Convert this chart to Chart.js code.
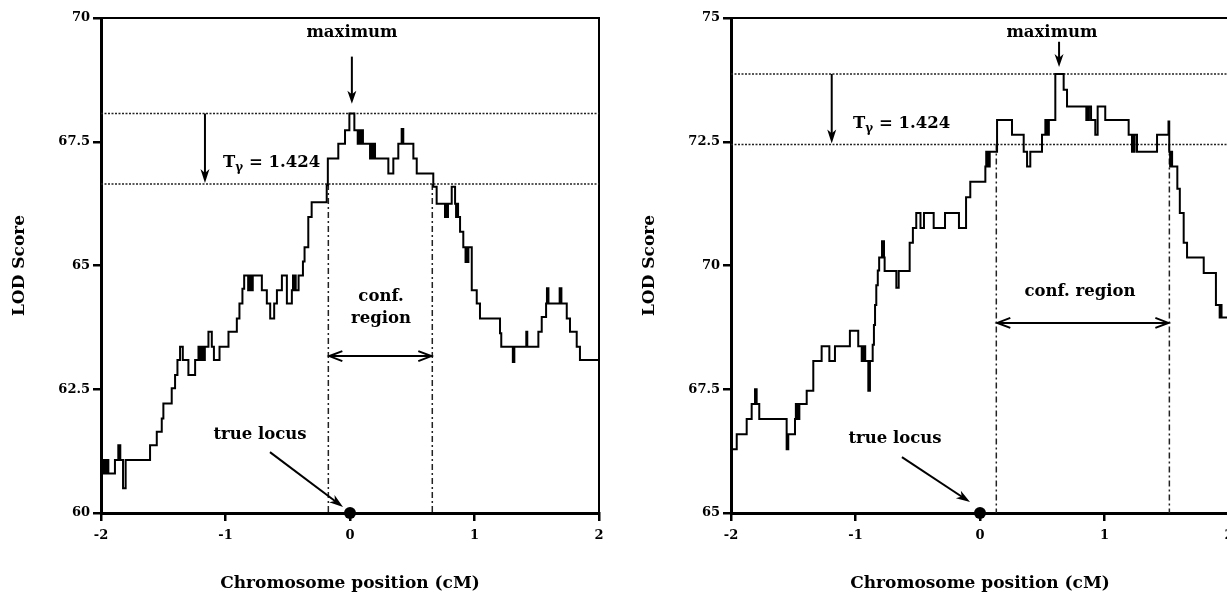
<!DOCTYPE html>
<html>
<head>
<meta charset="utf-8">
<script src="https://cdn.jsdelivr.net/npm/chart.js@4.4.1/dist/chart.umd.min.js"></script>
<style>
  html, body { margin: 0; padding: 0; background: #fff; overflow: hidden; width: 1227px; height: 596px; }
  canvas { position: absolute; top: 0; }
  #lodLeft { left: 0; }
  #lodRight { left: 630px; }
</style>
</head>
<body>
<canvas id="lodLeft" width="620" height="596" style="width:620px;height:596px"></canvas>
<canvas id="lodRight" width="620" height="596" style="width:620px;height:596px"></canvas>
<script>
// ---- axis ticks ----
const xTickValues = [-2, -1, 0, 1, 2];
const xTickLabels = ['-2', '-1', '0', '1', '2'];
const leftYTickValues = [60, 62.5, 65, 67.5, 70];
const leftYTickLabels = ['60', '62.5', '65', '67.5', '70'];
const rightYTickValues = [65, 67.5, 70, 72.5, 75];
const rightYTickLabels = ['65', '67.5', '70', '72.5', '75'];

// ---- LOD profile, left panel: position (cM) where each step begins, and its LOD score ----
const leftPos = [
  -2.000, -1.994, -1.986, -1.979, -1.971, -1.964, -1.956, -1.949, -1.941, -1.888,
  -1.861, -1.845, -1.823, -1.802, -1.606, -1.552, -1.512, -1.499, -1.432, -1.405,
  -1.386, -1.365, -1.343, -1.298, -1.244, -1.217, -1.206, -1.198, -1.190, -1.182,
  -1.174, -1.166, -1.137, -1.110, -1.093, -1.048, -0.976, -0.909, -0.888, -0.864,
  -0.850, -0.818, -0.811, -0.803, -0.796, -0.788, -0.781, -0.708, -0.668, -0.641,
  -0.609, -0.587, -0.547, -0.507, -0.467, -0.458, -0.450, -0.443, -0.436, -0.413,
  -0.378, -0.365, -0.335, -0.308, -0.187, -0.178, -0.094, -0.040, -0.005, 0.035,
  0.062, 0.069, 0.076, 0.083, 0.090, 0.097, 0.104, 0.161, 0.168, 0.175,
  0.182, 0.189, 0.196, 0.201, 0.308, 0.348, 0.388, 0.415, 0.428, 0.509,
  0.536, 0.669, 0.696, 0.763, 0.771, 0.779, 0.787, 0.817, 0.844, 0.852,
  0.860, 0.868, 0.884, 0.910, 0.928, 0.936, 0.942, 0.951, 0.978, 1.018,
  1.044, 1.205, 1.215, 1.308, 1.320, 1.416, 1.424, 1.513, 1.540, 1.575,
  1.582, 1.594, 1.684, 1.698, 1.741, 1.767, 1.821, 1.847, 2.000
];
const leftLod = [
  61.37, 61.07, 60.80, 61.07, 60.80, 61.07, 60.80, 61.07, 60.80, 61.07,
  61.37, 61.07, 60.50, 61.07, 61.37, 61.64, 61.91, 62.21, 62.52, 62.79,
  63.09, 63.36, 63.09, 62.79, 63.09, 63.36, 63.09, 63.36, 63.09, 63.36,
  63.09, 63.36, 63.66, 63.36, 63.09, 63.36, 63.66, 63.93, 64.23, 64.53,
  64.80, 64.50, 64.80, 64.50, 64.80, 64.50, 64.80, 64.50, 64.23, 63.93,
  64.23, 64.50, 64.80, 64.23, 64.50, 64.80, 64.50, 64.80, 64.50, 64.80,
  65.08, 65.37, 65.98, 66.28, 66.62, 67.16, 67.46, 67.73, 68.07, 67.73,
  67.46, 67.73, 67.46, 67.73, 67.46, 67.73, 67.46, 67.16, 67.46, 67.16,
  67.46, 67.16, 67.46, 67.16, 66.86, 67.16, 67.46, 67.76, 67.46, 67.16,
  66.86, 66.59, 66.25, 65.98, 66.25, 65.98, 66.25, 66.59, 66.25, 65.98,
  66.25, 65.98, 65.68, 65.37, 65.07, 65.37, 65.07, 65.37, 64.50, 64.23,
  63.93, 63.63, 63.36, 63.05, 63.36, 63.66, 63.36, 63.66, 63.96, 64.23,
  64.54, 64.23, 64.54, 64.23, 63.93, 63.66, 63.36, 63.09, 63.09
];

// ---- LOD profile, right panel ----
const rightPos = [
  -2.000, -1.954, -1.874, -1.834, -1.807, -1.794, -1.773, -1.553, -1.540, -1.486,
  -1.479, -1.472, -1.465, -1.458, -1.451, -1.392, -1.339, -1.272, -1.210, -1.165,
  -1.045, -0.978, -0.950, -0.944, -0.937, -0.930, -0.922, -0.897, -0.884, -0.862,
  -0.852, -0.843, -0.833, -0.821, -0.810, -0.787, -0.771, -0.766, -0.672, -0.653,
  -0.565, -0.539, -0.512, -0.478, -0.450, -0.372, -0.281, -0.169, -0.112, -0.078,
  0.043, 0.050, 0.057, 0.064, 0.071, 0.078, 0.137, 0.257, 0.351, 0.378,
  0.404, 0.498, 0.525, 0.532, 0.539, 0.546, 0.553, 0.605, 0.672, 0.699,
  0.854, 0.861, 0.868, 0.875, 0.892, 0.926, 0.945, 1.006, 1.194, 1.221,
  1.228, 1.235, 1.242, 1.261, 1.422, 1.514, 1.520, 1.527, 1.533, 1.543,
  1.585, 1.605, 1.636, 1.663, 1.797, 1.895, 1.925, 1.933, 1.940, 2.000
];
const rightLod = [
  66.29, 66.59, 66.90, 67.20, 67.50, 67.20, 66.90, 66.29, 66.59, 66.90,
  67.20, 66.90, 67.20, 66.90, 67.20, 67.47, 68.07, 68.37, 68.07, 68.37,
  68.68, 68.37, 68.07, 68.37, 68.07, 68.37, 68.07, 67.47, 68.07, 68.40,
  68.80, 69.20, 69.60, 69.90, 70.16, 70.49, 70.16, 69.89, 69.55, 69.89,
  70.46, 70.76, 71.06, 70.76, 71.06, 70.76, 71.06, 70.76, 71.38, 71.69,
  72.00, 72.30, 72.00, 72.30, 72.00, 72.30, 72.94, 72.64, 72.30, 72.00,
  72.30, 72.64, 72.94, 72.64, 72.94, 72.64, 72.94, 73.87, 73.55, 73.21,
  72.94, 73.21, 72.94, 73.21, 72.94, 72.64, 73.21, 72.94, 72.64, 72.30,
  72.64, 72.30, 72.64, 72.30, 72.64, 72.91, 72.30, 72.00, 72.30, 72.00,
  71.55, 71.06, 70.46, 70.16, 69.85, 69.20, 68.95, 69.20, 68.95, 68.95
];

// ---- support-interval quantities ----
const tGamma = 1.424;          // drop from the maximum that defines the region
const leftPeak = 68.07;        // maximum LOD, left panel
const rightPeak = 73.87;       // maximum LOD, right panel
const leftPeakPos = 0.015;
const rightPeakPos = 0.635;
const leftConf = [-0.174, 0.661];
const rightConf = [0.131, 1.521];
const trueLocusPos = 0;

const xTitle = 'Chromosome position (cM)';
const yTitle = 'LOD Score';

// ---- styling ----
const SERIF = '"DejaVu Serif", "Liberation Serif", serif';
const tickFont = { family: SERIF, weight: 'bold', size: 13 };
const titleFont = { family: SERIF, weight: 'bold', size: 17, lineHeight: 1.2 };
const noteSize = 16.5;

function drawArrow(ctx, x1, y1, x2, y2, head, half) {
  const ang = Math.atan2(y2 - y1, x2 - x1);
  ctx.beginPath();
  ctx.moveTo(x1, y1);
  ctx.lineTo(x2 - Math.cos(ang) * head * 0.6, y2 - Math.sin(ang) * head * 0.6);
  ctx.stroke();
  ctx.save();
  ctx.translate(x2, y2);
  ctx.rotate(ang);
  ctx.beginPath();
  ctx.moveTo(0, 0);
  ctx.lineTo(-head, -half);
  ctx.lineTo(-head * 0.72, 0);
  ctx.lineTo(-head, half);
  ctx.closePath();
  ctx.fill();
  ctx.restore();
}

function drawChevron(ctx, x, y, dir) {
  ctx.beginPath();
  ctx.moveTo(x + dir * 13, y - 5);
  ctx.lineTo(x, y);
  ctx.lineTo(x + dir * 13, y + 5);
  ctx.stroke();
}

// threshold lines, confidence-region bars, labels and arrows
const lodMarks = {
  id: 'lodMarks',
  beforeDatasetsDraw(chart, args, o) {
    const { ctx, chartArea: a, scales: { x, y } } = chart;
    const X = v => x.getPixelForValue(v), Y = v => y.getPixelForValue(v);
    ctx.save();
    ctx.strokeStyle = '#000';
    ctx.lineWidth = 2;
    ctx.beginPath();
    ctx.moveTo(a.left, a.top);
    ctx.lineTo(a.right, a.top);
    ctx.lineTo(a.right, a.bottom);
    ctx.stroke();

    ctx.strokeStyle = '#222';
    ctx.lineWidth = 1.5;
    ctx.setLineDash([2, 1.5]);
    for (const v of [o.peak, o.peak - o.t]) {
      const py = Y(v);
      ctx.beginPath();
      ctx.moveTo(a.left, py);
      ctx.lineTo(a.right, py);
      ctx.stroke();
    }
    ctx.setLineDash([6, 3, 2, 3]);
    for (const v of o.conf) {
      const px = X(v);
      ctx.beginPath();
      ctx.moveTo(px, Y(o.peak - o.t));
      ctx.lineTo(px, a.bottom);
      ctx.stroke();
    }
    ctx.restore();
  },
  afterDatasetsDraw(chart, args, o) {
    const { ctx, scales: { x, y } } = chart;
    const X = v => x.getPixelForValue(v), Y = v => y.getPixelForValue(v);
    const L = o.layout;
    ctx.save();
    ctx.fillStyle = '#000';
    ctx.strokeStyle = '#000';
    ctx.lineWidth = 2;
    const font = s => 'bold ' + s + 'px ' + SERIF;

    // maximum
    ctx.font = font(noteSize);
    ctx.textAlign = 'center';
    ctx.textBaseline = 'middle';
    ctx.fillText('maximum', X(L.maxText[0]), Y(L.maxText[1]));
    drawArrow(ctx, X(o.peakPos), Y(L.maxArrow[0]), X(o.peakPos), Y(L.maxArrow[1]), 13, 4.5);

    // drop arrow between the two thresholds
    drawArrow(ctx, X(L.tArrowX), Y(o.peak), X(L.tArrowX), Y(o.peak - o.t) - 1, 14, 4.5);
    ctx.textAlign = 'left';
    ctx.textBaseline = 'alphabetic';
    let tx = X(L.tText[0]);
    const ty = Y(L.tText[1]);
    ctx.font = font(noteSize);
    ctx.fillText('T', tx, ty);
    tx += ctx.measureText('T').width;
    ctx.font = font(12);
    ctx.fillText('\u03B3', tx, ty + 4);
    tx += ctx.measureText('\u03B3').width;
    ctx.font = font(noteSize);
    ctx.fillText(' = ' + o.t.toFixed(3), tx, ty);

    // confidence region
    const cy = Y(L.confArrowY);
    const c0 = X(o.conf[0]), c1 = X(o.conf[1]);
    ctx.beginPath();
    ctx.moveTo(c0 + 1, cy);
    ctx.lineTo(c1 - 1, cy);
    ctx.stroke();
    drawChevron(ctx, c0 + 1, cy, 1);
    drawChevron(ctx, c1 - 1, cy, -1);
    ctx.textAlign = 'center';
    ctx.textBaseline = 'middle';
    for (const [txt, px, py] of L.confText) ctx.fillText(txt, X(px), Y(py));

    // true locus
    ctx.fillText('true locus', X(L.locusText[0]), Y(L.locusText[1]));
    drawArrow(ctx, X(L.locusArrow[0]), Y(L.locusArrow[1]), X(L.locusArrow[2]), Y(L.locusArrow[3]), 14, 4.5);
    ctx.beginPath();
    ctx.arc(X(o.locus), Y(y.min), 6, 0, Math.PI * 2);
    ctx.fill();
    ctx.restore();
  }
};

function makeChart(id, pos, lod, yTickValues, yTickLabels, marks) {
  const points = pos.map((p, i) => ({ x: p, y: lod[i] }));
  return new Chart(document.getElementById(id), {
    type: 'line',
    data: {
      datasets: [{
        data: points,
        stepped: true,
        borderColor: '#000',
        borderWidth: 2,
        pointRadius: 0,
        fill: false,
        borderJoinStyle: 'miter'
      }]
    },
    options: {
      responsive: false,
      animation: false,
      events: [],
      layout: { padding: { left: 0, right: 21, top: 18, bottom: 0 } },
      plugins: { legend: { display: false }, tooltip: { enabled: false }, lodMarks: marks },
      scales: {
        x: {
          type: 'linear',
          min: xTickValues[0],
          max: xTickValues[xTickValues.length - 1],
          afterFit: s => { s.height = 83; },
          afterBuildTicks: s => { s.ticks = xTickValues.map(v => ({ value: v })); },
          ticks: { callback: (v, i) => xTickLabels[i], color: '#000', font: tickFont, padding: 7, maxRotation: 0, autoSkip: false },
          grid: { drawOnChartArea: false, drawTicks: true, tickLength: 8, lineWidth: 2.5, color: '#000' },
          border: { display: true, width: 3, color: '#000' },
          title: { display: true, text: xTitle, color: '#000', font: titleFont, padding: { top: 0, bottom: 2 } }
        },
        y: {
          type: 'linear',
          min: yTickValues[0],
          max: yTickValues[yTickValues.length - 1],
          afterFit: s => { s.width = 101; },
          afterBuildTicks: s => { s.ticks = yTickValues.map(v => ({ value: v })); },
          ticks: { callback: (v, i) => yTickLabels[i], color: '#000', font: tickFont, padding: 3, autoSkip: false },
          grid: { drawOnChartArea: false, drawTicks: true, tickLength: 8, lineWidth: 2.5, color: '#000' },
          border: { display: true, width: 3, color: '#000' },
          title: { display: true, text: yTitle, color: '#000', font: titleFont, padding: { top: 9, bottom: 0 } }
        }
      }
    },
    plugins: [lodMarks]
  });
}

makeChart('lodLeft', leftPos, leftLod, leftYTickValues, leftYTickLabels, {
  peak: leftPeak, t: tGamma, peakPos: leftPeakPos, conf: leftConf, locus: trueLocusPos,
  layout: {
    maxText: [0.016, 69.71], maxArrow: [69.22, 68.27],
    tArrowX: -1.165, tText: [-1.02, 66.98],
    confArrowY: 63.17,
    confText: [['conf.', 0.249, 64.36], ['region', 0.249, 63.93]],
    locusText: [-0.723, 61.59], locusArrow: [-0.643, 61.23, -0.056, 60.12]
  }
});

makeChart('lodRight', rightPos, rightLod, rightYTickValues, rightYTickLabels, {
  peak: rightPeak, t: tGamma, peakPos: rightPeakPos, conf: rightConf, locus: trueLocusPos,
  layout: {
    maxText: [0.578, 74.70], maxArrow: [74.52, 74.01],
    tArrowX: -1.191, tText: [-1.02, 72.78],
    confArrowY: 68.84,
    confText: [['conf. region', 0.803, 69.48]],
    locusText: [-0.683, 66.51], locusArrow: [-0.627, 66.13, -0.080, 65.22]
  }
});
</script>
</body>
</html>
